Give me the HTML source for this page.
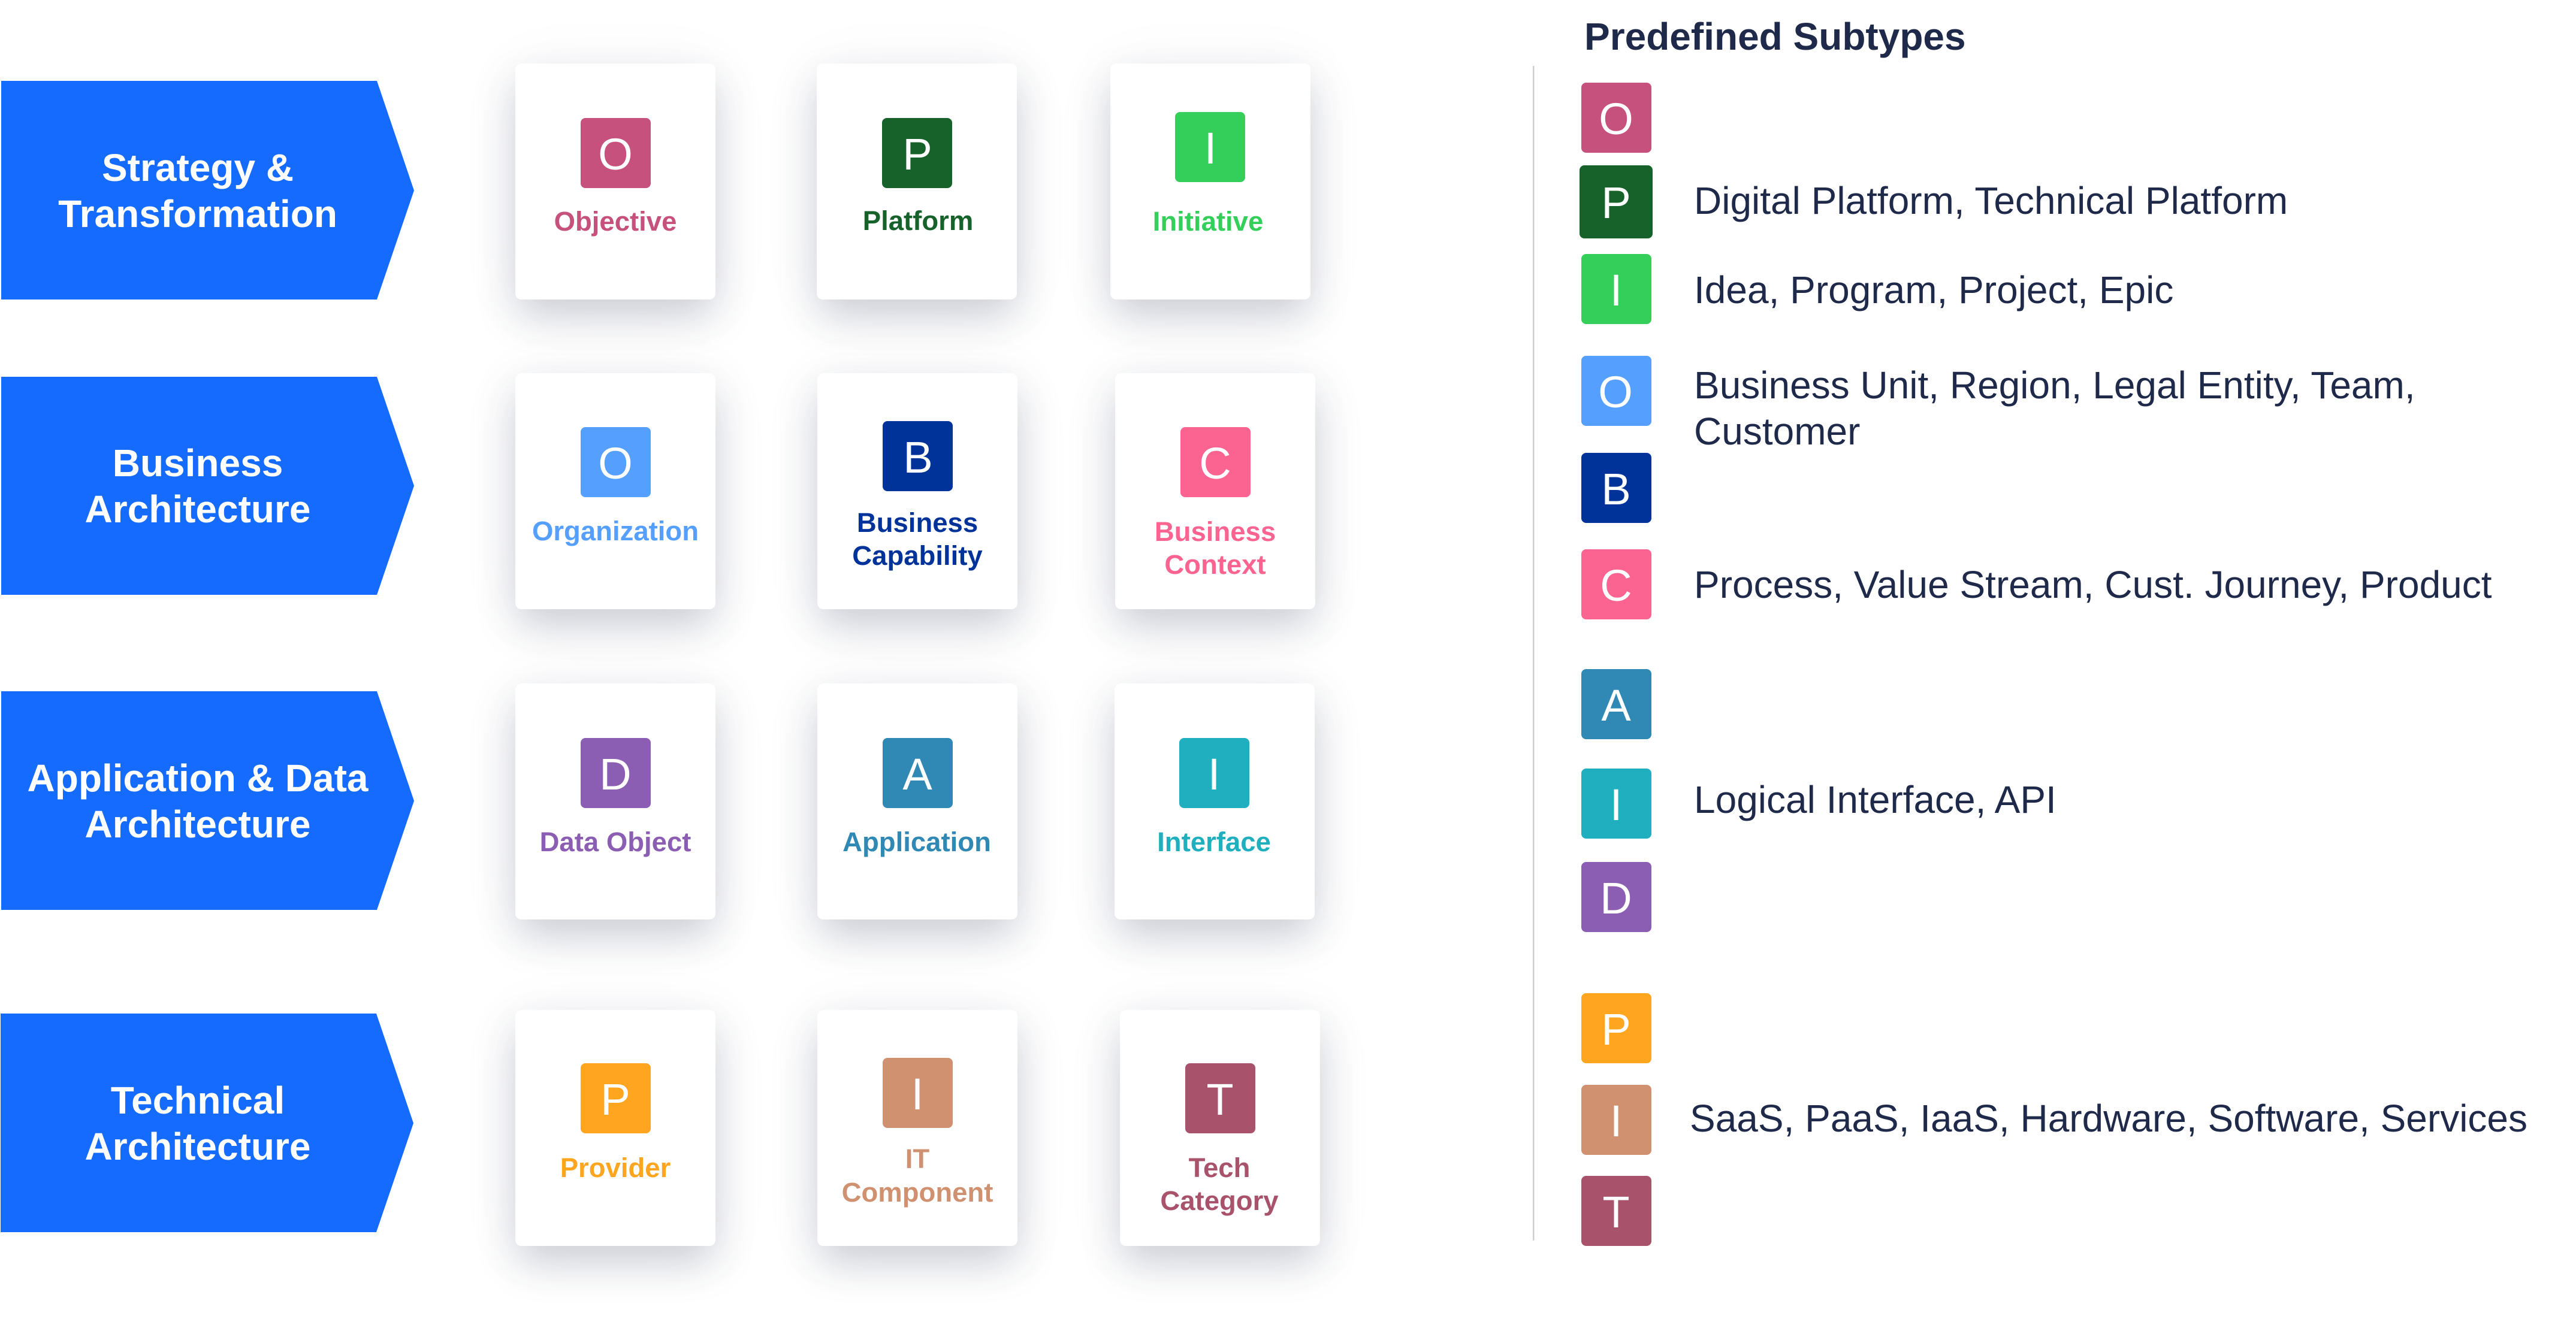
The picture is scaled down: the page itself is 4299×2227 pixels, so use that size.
<!DOCTYPE html>
<html><head><meta charset="utf-8"><style>
html,body{margin:0;padding:0;background:#fff}
#r{position:relative;width:4299px;height:2227px;overflow:hidden;background:#fff}
.c{position:absolute;width:334px;height:394px;background:#fff;border-radius:10px;box-shadow:0 30px 68px -4px rgba(40,48,80,.22),0 10px 110px rgba(40,48,80,.05)}
svg{position:absolute;left:0;top:0}
text{font-family:"Liberation Sans",sans-serif}
.h{font-size:64px;font-weight:700;fill:#fff;text-anchor:middle}
.l{font-size:45.5px;font-weight:700;text-anchor:middle}
.i{font-size:74px;fill:#fff;text-anchor:middle}
.b{font-size:64px;fill:#1f2a4b}
</style></head><body><div id="r">
<div class="c" style="left:860px;top:106px"></div>
<div class="c" style="left:1363px;top:106px"></div>
<div class="c" style="left:1853px;top:106px"></div>
<div class="c" style="left:860px;top:623px"></div>
<div class="c" style="left:1364px;top:623px"></div>
<div class="c" style="left:1861px;top:623px"></div>
<div class="c" style="left:860px;top:1141px"></div>
<div class="c" style="left:1364px;top:1141px"></div>
<div class="c" style="left:1860px;top:1141px"></div>
<div class="c" style="left:860px;top:1686px"></div>
<div class="c" style="left:1364px;top:1686px"></div>
<div class="c" style="left:1869px;top:1686px"></div>
<svg width="4299" height="2227" viewBox="0 0 4299 2227" xmlns="http://www.w3.org/2000/svg">
<g fill="#166bff">
<polygon points="2,135 629,135 691,318 629,500 2,500"/>
<polygon points="2,629 629,629 691,811 629,993 2,993"/>
<polygon points="2,1154 629,1154 691,1337 629,1519 2,1519"/>
<polygon points="1,1692 628,1692 690,1875 628,2057 1,2057"/>
</g>
<text class="h" x="330" y="302">Strategy &amp;</text>
<text class="h" x="330" y="379">Transformation</text>
<text class="h" x="330" y="795">Business</text>
<text class="h" x="330" y="872">Architecture</text>
<text class="h" x="330" y="1321">Application &amp; Data</text>
<text class="h" x="330" y="1398">Architecture</text>
<text class="h" x="330" y="1859">Technical</text>
<text class="h" x="330" y="1936">Architecture</text>

<rect x="969" y="197" width="117" height="117" rx="8" fill="#c7517d"/><text class="i" x="1027" y="283">O</text>
<text class="l" x="1027" y="385" fill="#c7517d">Objective</text>
<rect x="1472" y="197" width="117" height="117" rx="8" fill="#17622b"/><text class="i" x="1531" y="283">P</text>
<text class="l" x="1532" y="384" fill="#17622b">Platform</text>
<rect x="1961" y="187" width="117" height="117" rx="8" fill="#34cf5a"/><text class="i" x="2020" y="273">I</text>
<text class="l" x="2016" y="385" fill="#34cf5a">Initiative</text>

<rect x="969" y="713" width="117" height="117" rx="8" fill="#549fff"/><text class="i" x="1027" y="799">O</text>
<text class="l" x="1027" y="902" fill="#549fff">Organization</text>
<rect x="1473" y="703" width="117" height="117" rx="8" fill="#00339a"/><text class="i" x="1532" y="789">B</text>
<text class="l" x="1531" y="888" fill="#00339a">Business</text>
<text class="l" x="1531" y="943" fill="#00339a">Capability</text>
<rect x="1970" y="713" width="117" height="117" rx="8" fill="#fb6391"/><text class="i" x="2028" y="799">C</text>
<text class="l" x="2028" y="903" fill="#fb6391">Business</text>
<text class="l" x="2028" y="958" fill="#fb6391">Context</text>

<rect x="969" y="1232" width="117" height="117" rx="8" fill="#8c5eb3"/><text class="i" x="1027" y="1318">D</text>
<text class="l" x="1027" y="1421" fill="#8c5eb3">Data Object</text>
<rect x="1473" y="1232" width="117" height="117" rx="8" fill="#3088b5"/><text class="i" x="1531" y="1318">A</text>
<text class="l" x="1530" y="1421" fill="#3088b5">Application</text>
<rect x="1968" y="1232" width="117" height="117" rx="8" fill="#20afbf"/><text class="i" x="2026" y="1318">I</text>
<text class="l" x="2026" y="1421" fill="#20afbf">Interface</text>

<rect x="969" y="1775" width="117" height="117" rx="8" fill="#ffa51f"/><text class="i" x="1027" y="1861">P</text>
<text class="l" x="1027" y="1965" fill="#ffa51f">Provider</text>
<rect x="1473" y="1766" width="117" height="117" rx="8" fill="#d09170"/><text class="i" x="1531" y="1852">I</text>
<text class="l" x="1531" y="1950" fill="#d09170">IT</text>
<text class="l" x="1531" y="2006" fill="#d09170">Component</text>
<rect x="1978" y="1775" width="117" height="117" rx="8" fill="#a8526b"/><text class="i" x="2036" y="1861">T</text>
<text class="l" x="2035" y="1965" fill="#a8526b">Tech</text>
<text class="l" x="2035" y="2020" fill="#a8526b">Category</text>

<rect x="2558" y="110" width="2.5" height="1961" fill="#cfcfd2"/>
<text x="2644" y="83" font-weight="700" fill="#1f2a4b" style="font-size:64px">Predefined Subtypes</text>

<rect x="2639" y="138" width="117" height="117" rx="8" fill="#c7517d"/><text class="i" x="2697" y="224">O</text>
<rect x="2636" y="276" width="122" height="122" rx="8" fill="#17622b"/><text class="i" x="2697" y="364">P</text>
<rect x="2639" y="424" width="117" height="117" rx="8" fill="#34cf5a"/><text class="i" x="2697" y="510">I</text>
<rect x="2639" y="594" width="117" height="117" rx="8" fill="#549fff"/><text class="i" x="2696" y="680">O</text>
<rect x="2639" y="756" width="117" height="117" rx="8" fill="#00339a"/><text class="i" x="2697" y="842">B</text>
<rect x="2639" y="917" width="117" height="117" rx="8" fill="#fb6391"/><text class="i" x="2697" y="1003">C</text>
<rect x="2639" y="1117" width="117" height="117" rx="8" fill="#3088b5"/><text class="i" x="2697" y="1203">A</text>
<rect x="2639" y="1283" width="117" height="117" rx="8" fill="#20afbf"/><text class="i" x="2697" y="1369">I</text>
<rect x="2639" y="1439" width="117" height="117" rx="8" fill="#8c5eb3"/><text class="i" x="2697" y="1525">D</text>
<rect x="2639" y="1658" width="117" height="117" rx="8" fill="#ffa51f"/><text class="i" x="2697" y="1744">P</text>
<rect x="2639" y="1811" width="117" height="117" rx="8" fill="#d09170"/><text class="i" x="2697" y="1897">I</text>
<rect x="2639" y="1963" width="117" height="117" rx="8" fill="#a8526b"/><text class="i" x="2697" y="2049">T</text>

<text class="b" x="2827" y="357">Digital Platform, Technical Platform</text>
<text class="b" x="2827" y="506">Idea, Program, Project, Epic</text>
<text class="b" x="2827" y="665">Business Unit, Region, Legal Entity, Team,</text>
<text class="b" x="2827" y="742">Customer</text>
<text class="b" x="2827" y="998">Process, Value Stream, Cust. Journey, Product</text>
<text class="b" x="2827" y="1357">Logical Interface, API</text>
<text class="b" x="2820" y="1889">SaaS, PaaS, IaaS, Hardware, Software, Services</text>
</svg>
</div></body></html>
